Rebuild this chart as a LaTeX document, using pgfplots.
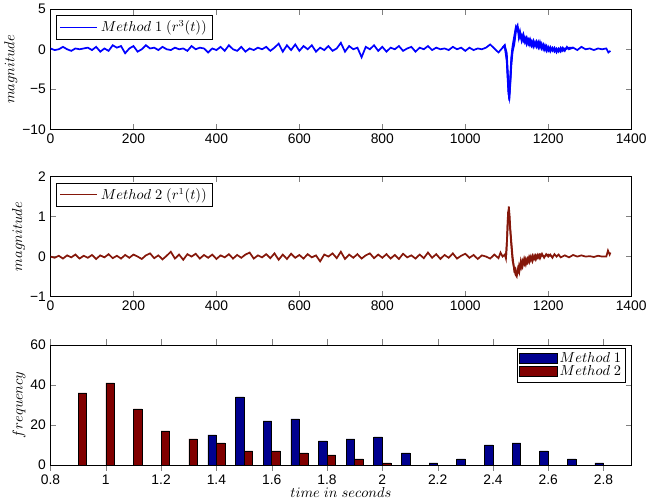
\documentclass[border=0pt]{standalone}
\usepackage{pgfplots}
\pgfplotsset{compat=1.18}
\usepackage{fontspec}
\setmainfont{Liberation Sans}

\definecolor{sigblue}{rgb}{0,0,1}
\definecolor{sigred}{rgb}{0.52,0.09,0.04}
\definecolor{barblue}{rgb}{0,0,0.56}
\definecolor{barred}{rgb}{0.5,0,0}

\pgfplotsset{
  sig/.style={scale only axis, width=440pt, height=91pt,
    xmin=0, xmax=1400, xtick={0,200,...,1400},
    /pgf/number format/assume math mode=true,
    /pgf/number format/1000 sep={},
    ticklabel style={font=\fontsize{10.5}{12}\selectfont},
    ylabel style={font=\fontsize{11}{12}\selectfont, yshift=-3pt},
    ylabel={$magnitude$},
    legend style={at={(0.01,0.95)}, anchor=north west, font=\fontsize{10.5}{12}\selectfont,
      draw=black, inner sep=2pt, legend cell align=left},
    legend image code/.code={\draw[mark repeat=2,mark phase=2,##1]
      plot coordinates {(0cm,0cm) (0.5cm,0cm) (1.0cm,0cm)};},
    legend image post style={line width=1.1pt},
  }
}

\begin{document}
\begin{tikzpicture}
% ---------- top: method 1
\begin{axis}[sig, ymin=-10, ymax=5, ytick={-10,-5,0,5}, yticklabels={−10,−5,0,5}]
\addplot[color=sigblue, line width=1.3pt] table {
0 0.1
10 -0.1
20 0.0
30 0.3
40 0.0
50 -0.2
60 0.1
70 0.0
80 0.1
90 0.2
100 -0.1
110 0.3
120 -0.3
130 0.1
140 -0.2
150 0.5
160 0.2
170 0.4
180 -0.5
190 0.1
200 0.4
210 -0.3
220 0.0
230 0.5
240 0.1
250 0.2
260 -0.1
270 0.3
280 0.0
290 -0.1
300 0.2
310 0.0
320 0.1
330 -0.2
340 0.4
350 0.0
360 0.2
370 0.1
380 -0.4
390 0.1
400 -0.1
410 0.3
420 -0.2
430 0.5
440 0.0
450 -0.2
460 0.3
470 -0.3
480 0.1
490 -0.1
500 0.2
510 0.0
520 0.3
530 -0.2
540 0.2
550 0.7
560 -0.3
570 0.5
580 -0.1
590 0.6
600 -0.2
610 0.4
620 0.0
630 0.5
640 -0.3
650 0.2
660 -0.1
670 0.4
680 -0.2
690 0.1
700 0.8
710 -0.3
720 0.4
730 0.0
740 0.2
750 -1.0
760 0.3
770 0.0
780 0.5
790 -0.2
800 0.3
810 -0.3
820 0.2
830 0.0
840 0.4
850 -0.2
860 0.1
870 0.3
880 -0.3
890 0.2
900 0.0
910 0.4
920 -0.1
930 0.2
940 0.0
950 0.1
960 -0.1
970 0.3
980 0.0
990 0.2
1000 -0.2
1010 0.2
1020 -0.1
1030 0.1
1040 0.0
1050 0.2
1060 0.6
1070 0.1
1080 -0.4
1090 0.2
1095 0.5
1100 -1.0
1104 -5.0
1106 -6.4
1108 -4.5
1111 -1.5
1114 0.0
1118 1.0
1122 2.6
1126 3.0
1129 1.5
1132 2.2
1136 1.0
1140 1.6
1144 0.8
1148 1.2
1152 0.6
1156 1.0
1160 0.4
1164 0.9
1168 0.5
1172 0.8
1176 0.2
1180 0.9
1184 0.1
1188 0.6
1192 -0.1
1196 0.4
1200 -0.2
1205 0.3
1210 -0.2
1215 0.2
1220 -0.4
1225 0.1
1230 -0.3
1235 0.2
1240 -0.2
1245 0.3
1250 0.0
1260 0.2
1270 -0.1
1280 0.3
1290 0.0
1300 0.1
1310 -0.1
1320 0.1
1330 0.0
1340 0.1
1345 -0.4
1350 -0.2
};
\addlegendentry{$Method\ 1\ (r^3(t))$}
\addplot[color=sigblue, line width=1.3pt, forget plot] table {
1090 0.2
1095 0.4
1100 -1.5
1104 -5.5
1106 -6.0
1108 -4.0
1111 -1.0
1114 0.4
1118 1.6
1122 2.8
1126 2.4
1129 2.0
1132 1.4
1136 1.8
1140 1.0
1144 1.4
1148 0.6
1152 1.2
1156 0.5
1160 1.0
1164 0.3
1168 0.9
1172 0.3
1176 0.9
1180 0.2
1184 0.7
1188 0.0
1192 0.5
1196 -0.2
1200 0.3
1205 -0.3
1210 0.2
1215 -0.3
1220 0.1
1225 -0.3
1230 0.2
1235 -0.2
1240 0.1
1250 0.1
1260 0.2
};
\addplot[color=sigblue, line width=1.3pt, forget plot] table {
1090 0.2
1095 0.5
1100 -0.5
1104 -4.5
1106 -5.8
1108 -4.8
1111 -2.0
1114 -0.3
1118 0.6
1122 2.2
1126 2.8
1129 2.4
1132 1.8
1136 1.3
1140 1.9
1144 1.1
1148 1.5
1152 0.8
1156 1.3
1160 0.6
1164 1.1
1168 0.4
1172 1.0
1176 0.5
1180 0.6
1184 0.4
1188 0.2
1192 0.3
1196 0.0
1200 0.1
1205 0.0
1210 -0.1
1215 0.0
1220 -0.2
1225 0.0
1230 -0.1
1240 0.0
1250 0.2
1260 0.2
};
\end{axis}

% ---------- middle: method 2
\begin{axis}[sig, at={(0,-126.75pt)}, ymin=-1, ymax=2, ytick={-1,0,1,2}, yticklabels={−1,0,1,2}]
\addplot[color=sigred, line width=1.3pt] table {
0 0.0
10 -0.03
20 0.02
30 -0.05
40 0.03
50 -0.02
60 0.05
70 -0.05
80 0.02
90 -0.03
100 0.04
110 -0.06
120 0.03
130 -0.02
140 0.06
150 -0.04
160 0.02
170 -0.05
180 0.04
190 -0.03
200 0.05
210 0.0
220 -0.06
230 0.03
240 0.08
250 -0.04
260 0.03
270 -0.07
280 0.02
290 0.12
300 -0.05
310 0.05
320 -0.08
330 0.06
340 0.0
350 0.07
360 -0.05
370 0.04
380 -0.03
390 0.05
400 -0.06
410 0.03
420 -0.02
430 0.06
440 -0.05
450 0.04
460 -0.03
470 0.05
480 0.1
490 -0.05
500 0.03
510 -0.02
520 0.06
530 -0.04
540 0.08
550 -0.08
560 0.05
570 -0.06
580 0.07
590 -0.03
600 0.04
610 -0.05
620 0.06
630 -0.02
640 0.03
650 -0.12
660 0.05
670 0.0
680 0.08
690 -0.04
700 0.12
710 -0.06
720 0.05
730 -0.03
740 0.06
750 -0.05
760 0.03
770 0.08
780 -0.04
790 0.05
800 -0.03
810 0.06
820 -0.05
830 0.04
840 -0.06
850 0.07
860 -0.02
870 0.03
880 -0.05
890 0.05
900 -0.04
910 0.1
920 -0.03
930 0.06
940 -0.06
950 0.04
960 -0.03
970 0.08
980 -0.05
990 0.02
1000 0.07
1010 -0.03
1020 0.04
1030 -0.06
1040 0.03
1050 0.0
1060 -0.05
1070 0.05
1080 -0.04
1085 0.1
1090 0.0
1095 0.05
1098 -0.05
1100 0.3
1103 1.0
1105 1.25
1107 1.0
1110 0.4
1114 -0.1
1118 -0.3
1121 -0.45
1124 -0.5
1127 -0.3
1130 -0.4
1134 -0.1
1138 -0.25
1142 -0.05
1146 -0.2
1150 -0.05
1154 -0.15
1158 0.0
1162 -0.12
1166 0.02
1170 -0.08
1175 0.05
1180 -0.05
1185 0.07
1190 -0.03
1195 0.06
1200 0.0
1205 0.05
1210 -0.03
1215 0.06
1220 0.0
1225 0.05
1230 -0.02
1240 0.03
1250 -0.02
1260 0.04
1270 0.0
1280 0.03
1290 0.0
1300 0.01
1310 -0.01
1320 0.02
1330 0.0
1340 0.0
1344 0.15
1348 0.05
1350 0.1
};
\addlegendentry{$Method\ 2\ (r^1(t))$}
\addplot[color=sigred, line width=1.3pt, forget plot] table {
1098 -0.05
1101 0.5
1103 1.1
1105 1.15
1107 0.8
1110 0.5
1114 0.0
1118 -0.35
1121 -0.3
1124 -0.45
1127 -0.4
1130 -0.2
1134 -0.3
1138 -0.1
1142 -0.2
1146 -0.05
1150 -0.15
1154 0.0
1158 -0.1
1162 0.03
1166 -0.06
1170 0.04
1175 -0.04
1180 0.06
1190 0.0
1200 0.05
1210 0.0
};
\end{axis}

% ---------- bottom: histogram
\begin{axis}[at={(0,-254.25pt)}, scale only axis, width=440pt, height=91pt,
  xmin=0.8, xmax=2.9, ymin=0, ymax=60,
  xtick={0.8,1,...,2.8}, ytick={0,20,40,60},
  /pgf/number format/assume math mode=true,
  ticklabel style={font=\fontsize{10.5}{12}\selectfont},
  ylabel={$frequency$}, xlabel={$time\ in\ seconds$},
  label style={font=\fontsize{11}{12}\selectfont},
  ylabel style={yshift=-3pt}, xlabel style={yshift=5pt},
  ybar=0pt, bar width=0.031,
  legend style={at={(0.99,0.97)}, anchor=north east, font=\fontsize{10.5}{12}\selectfont,
    draw=black, inner sep=1pt, row sep=-3pt, legend cell align=left},
  legend image code/.code={\draw[#1] (0cm,-0.12cm) rectangle (1.0cm,0.15cm);},
]
\addplot[fill=barblue, draw=black, line width=0.4pt] coordinates {
(1.4,15) (1.5,34) (1.6,22) (1.7,23) (1.8,12) (1.9,13) (2.0,14) (2.1,6)
(2.2,1) (2.3,3) (2.4,10) (2.5,11) (2.6,7) (2.7,3) (2.8,1)};
\addlegendentry{$Method\ 1$}
\addplot[fill=barred, draw=black, line width=0.4pt] coordinates {
(0.9,36) (1.0,41) (1.1,28) (1.2,17) (1.3,13) (1.4,11) (1.5,7) (1.6,7)
(1.7,6) (1.8,5) (1.9,3) (2.0,1)};
\addlegendentry{$Method\ 2$}
\end{axis}
\end{tikzpicture}
\end{document}
